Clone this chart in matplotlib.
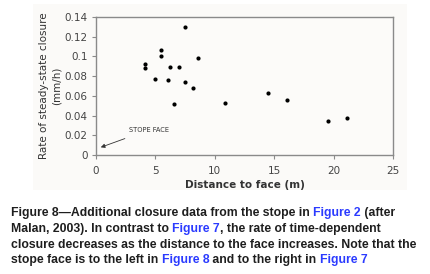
import matplotlib
matplotlib.use("Agg")
import matplotlib.pyplot as plt
from matplotlib.patches import Rectangle

# Data (distance to face in m, rate of steady-state closure in mm/h)
distance = [4.1, 4.1, 5.0, 5.5, 5.5, 6.1, 6.2, 6.6, 7.0, 7.5, 7.5, 8.2, 8.6,
            10.9, 14.5, 16.1, 19.5, 21.1]
rate = [0.092, 0.088, 0.077, 0.107, 0.100, 0.076, 0.089, 0.052, 0.089, 0.130,
        0.074, 0.068, 0.098, 0.053, 0.063, 0.056, 0.034, 0.038]
x_ticks = [0, 5, 10, 15, 20, 25]
y_ticks = [0, 0.02, 0.04, 0.06, 0.08, 0.1, 0.12, 0.14]
y_tick_labels = ["0", "0.02", "0.04", "0.06", "0.08", "0.1", "0.12", "0.14"]

W, H = 430, 274
fig = plt.figure(figsize=(W / 100, H / 100), dpi=100)
fig.patch.set_facecolor("white")

# light panel behind chart
fig.patches.append(Rectangle((33 / W, 1 - 190 / H), (407 - 33) / W, (190 - 4) / H,
                             transform=fig.transFigure, facecolor="#fbfaf8",
                             edgecolor="none", zorder=-5))

ax = fig.add_axes([96 / W, 1 - 155 / H, (393 - 96) / W, (155 - 17) / H])
ax.set_zorder(2)
ax.set_facecolor("#fcfbf9")
ax.scatter(distance, rate, s=9, color="black", zorder=3, linewidths=0)
ax.set_xlim(0, 25)
ax.set_ylim(0, 0.14)
ax.set_xticks(x_ticks)
ax.set_xticklabels([str(t) for t in x_ticks])
ax.set_yticks(y_ticks)
ax.set_yticklabels(y_tick_labels)
for s in ax.spines.values():
    s.set_color("#8a8a8a")
    s.set_linewidth(1.0)
ax.tick_params(axis="both", colors="#8a8a8a", labelcolor="#444444",
               labelsize=7.5, length=3, width=0.8, direction="out", pad=3)
ax.tick_params(axis="x", pad=5)
ax.set_xlabel("Distance to face (m)", fontsize=7.5, fontweight="bold",
              color="#333333", labelpad=3)
ax.set_ylabel("Rate of steady-state closure\n(mm/h)", fontsize=7.5,
              color="#333333", labelpad=2, linespacing=1.3)

ax.annotate("STOPE FACE", xy=(0.4, 0.0078), xytext=(2.75, 0.0254),
            fontsize=4.8, color="#333333", va="center", ha="left",
            arrowprops=dict(arrowstyle="-|>", color="#333333", lw=0.6,
                            mutation_scale=6, shrinkA=6, shrinkB=0))

# caption with coloured cross-references
lines = [
    [("Figure 8\u2014Additional closure data from the stope in ", "k"),
     ("Figure 2", "b"), (" (after", "k")],
    [("Malan, 2003). In contrast to ", "k"), ("Figure 7", "b"),
     (", the rate of time-dependent", "k")],
    [("closure decreases as the distance to the face increases. Note that the", "k")],
    [("stope face is to the left in ", "k"), ("Figure 8", "b"),
     (" and to the right in ", "k"), ("Figure 7", "b")],
]
colors = {"k": "#1e1e1e", "b": "#2b3bff"}
ys = [213, 229, 245, 260]
fig.canvas.draw()
renderer = fig.canvas.get_renderer()
for line, yp in zip(lines, ys):
    xpix = 11.0
    for txt, c in line:
        t = fig.text(xpix / W, 1 - yp / H, txt, fontsize=8.85,
                     family="Liberation Sans", fontweight="bold",
                     color=colors[c], va="center", ha="left")
        bb = t.get_window_extent(renderer=renderer)
        xpix += bb.width

fig.savefig("out.png", dpi=100, facecolor="white")
